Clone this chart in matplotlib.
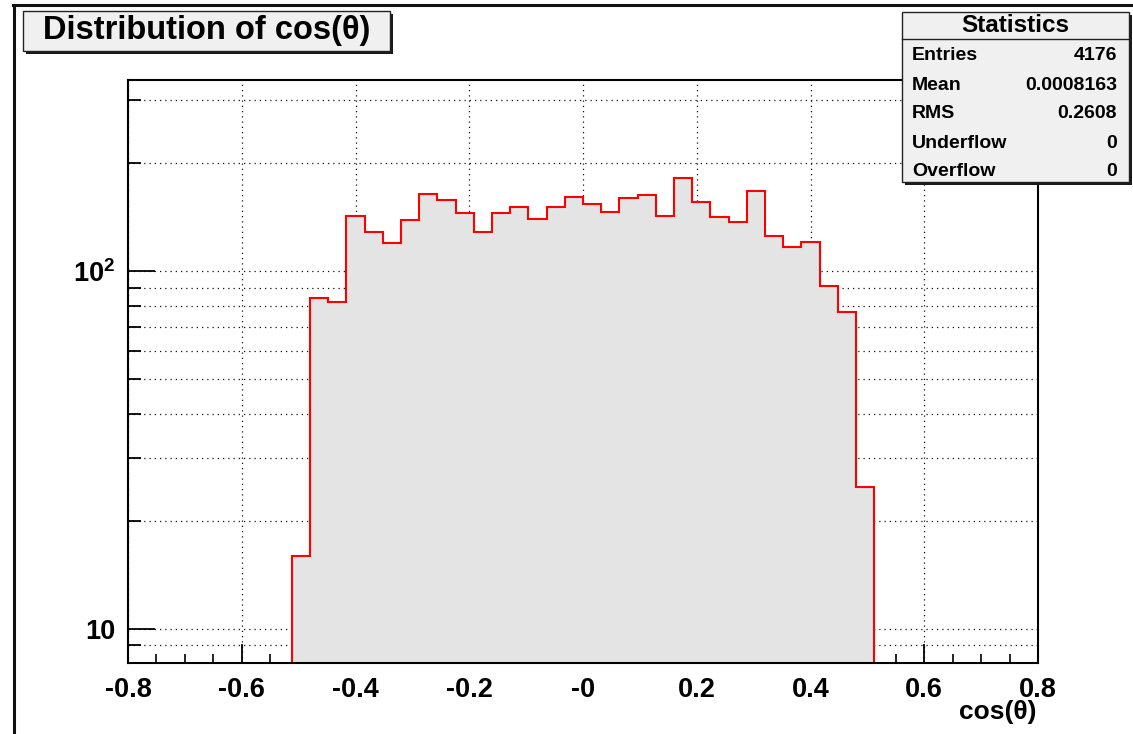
import numpy as np
import matplotlib
matplotlib.use("Agg")
import matplotlib.pyplot as plt
from matplotlib.patches import Rectangle
from matplotlib.lines import Line2D
from matplotlib.ticker import FixedLocator, MultipleLocator, NullFormatter

# cos(theta) histogram: 50 bins over [-0.8, 0.8]; only bins 9..40 are populated
bin_lo, bin_hi, n_bins = -0.8, 0.8, 50
first_bin = 9
counts = [16, 84, 82, 143, 129, 120, 139, 164, 158, 145, 129, 145, 151, 140, 151, 161,
          154, 146, 160, 163, 143, 182, 156, 142, 137, 168, 125, 117, 121, 91, 77, 25]

stat_names = ["Entries", "Mean", "RMS", "Underflow", "Overflow"]
stat_values = ["4176", "0.0008163", "0.2608", "0", "0"]

x_ticks = [-0.8, -0.6, -0.4, -0.2, 0.0, 0.2, 0.4, 0.6, 0.8]
x_tick_labels = ["-0.8", "-0.6", "-0.4", "-0.2", "-0", "0.2", "0.4", "0.6", "0.8"]
y_ticks = [10, 100]
y_tick_labels = ["10", "$10^{2}$"]
y_minor = [9, 20, 30, 40, 50, 60, 70, 80, 90, 200, 300]

plt.rcParams["font.family"] = ["Liberation Sans", "DejaVu Sans"]
plt.rcParams["font.weight"] = "bold"
plt.rcParams["mathtext.fontset"] = "custom"
plt.rcParams["mathtext.rm"] = "Liberation Sans:bold"
plt.rcParams["mathtext.it"] = "Liberation Sans:bold"
plt.rcParams["mathtext.bf"] = "Liberation Sans:bold"

W, H = 1133, 734
fig = plt.figure(figsize=(W / 100, H / 100), dpi=100)


def fx(x):
    return x / W


def fy(y):
    return 1 - y / H


all_edges = np.linspace(bin_lo, bin_hi, n_bins + 1)
edges = all_edges[first_bin:first_bin + len(counts) + 1]

ax = fig.add_axes([fx(128), fy(663), (1038 - 128) / W, (663 - 80) / H])
ax.set_yscale("log")
ax.set_xlim(bin_lo, bin_hi)
ax.set_ylim(8.04, 342)

ax.stairs(counts, edges, baseline=1, fill=True, color="#e4e4e4", zorder=1)
ax.stairs(counts, edges, baseline=1, color="#ff0000", lw=1.5, zorder=2)

ax.set_xticks(x_ticks)
ax.set_xticklabels(x_tick_labels)
ax.xaxis.set_minor_locator(MultipleLocator(0.05))
ax.yaxis.set_major_locator(FixedLocator(y_ticks))
ax.set_yticklabels(y_tick_labels)
ax.yaxis.set_minor_locator(FixedLocator(y_minor))
ax.yaxis.set_minor_formatter(NullFormatter())

ax.tick_params(axis="x", which="major", direction="in", length=14, width=1.3,
               labelsize=19.5, pad=10, top=False)
ax.tick_params(axis="x", which="minor", direction="in", length=6.5, width=1.2, top=False)
ax.tick_params(axis="y", which="major", direction="in", length=19.5, width=1.3,
               labelsize=19.5, pad=9, right=False)
ax.tick_params(axis="y", which="minor", direction="in", length=9.5, width=1.3, right=False)
for lab in ax.get_xticklabels() + ax.get_yticklabels():
    lab.set_fontweight("bold")

grid_style = dict(color="#111111", linestyle=(0, (1, 3.2)), linewidth=0.9)
ax.set_axisbelow(True)
ax.xaxis.grid(True, which="major", **grid_style)
ax.yaxis.grid(True, which="both", **grid_style)

for sp in ax.spines.values():
    sp.set_linewidth(1.5)

fig.text(fx(1037), fy(712), "cos(θ)", ha="right", va="center",
         fontsize=19, fontweight="bold")

# canvas border
fig.add_artist(Line2D([fx(13.5), fx(13.5)], [fy(5), fy(H)], color="#111111", lw=2.2,
                      transform=fig.transFigure))
fig.add_artist(Line2D([fx(12.5), fx(W)], [fy(5), fy(5)], color="#111111", lw=2.2,
                      transform=fig.transFigure))


def panel(x0, y0, x1, y1, shadow=3):
    fig.add_artist(Rectangle((fx(x0 + shadow), fy(y1 + shadow)), (x1 - x0) / W,
                             (y1 - y0) / H, transform=fig.transFigure,
                             facecolor="#1a1a1a", edgecolor="none", zorder=5))
    fig.add_artist(Rectangle((fx(x0), fy(y1)), (x1 - x0) / W, (y1 - y0) / H,
                             transform=fig.transFigure, facecolor="#f0f0f0",
                             edgecolor="#222222", lw=1.0, zorder=6))


# title box
panel(23, 11, 390, 51)
fig.text(fx(207), fy(31), "Distribution of cos(θ)", ha="center", va="center",
         fontsize=23.5, fontweight="bold", zorder=7)

# statistics box
panel(902, 12, 1129, 182)
fig.add_artist(Line2D([fx(902), fx(1129)], [fy(39), fy(39)], color="#222222", lw=1.0,
                      transform=fig.transFigure, zorder=7))
fig.text(fx(1015), fy(26), "Statistics", ha="center", va="center",
         fontsize=17.5, fontweight="bold", zorder=7)
row_y = [55, 85, 114, 143, 171]
for name, val, yy in zip(stat_names, stat_values, row_y):
    fig.text(fx(912), fy(yy), name, ha="left", va="center",
             fontsize=14, fontweight="bold", zorder=7)
    fig.text(fx(1117), fy(yy), val, ha="right", va="center",
             fontsize=14, fontweight="bold", zorder=7)

fig.savefig("out.png", dpi=100, facecolor="white")
